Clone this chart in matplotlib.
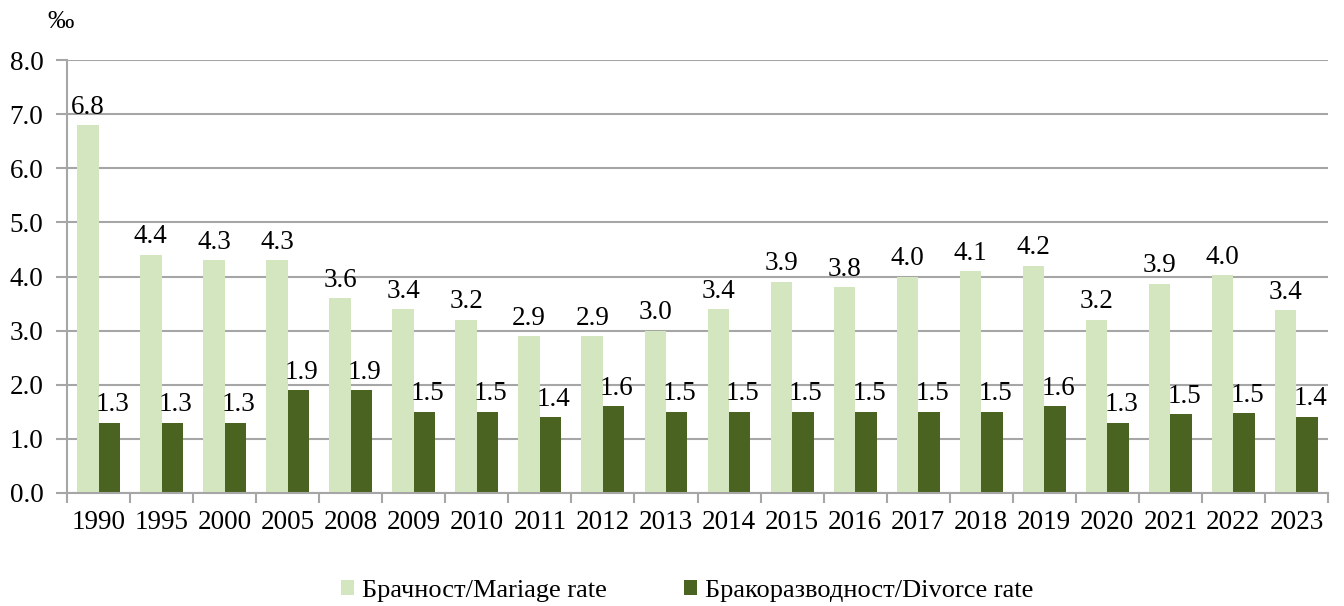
import numpy as np
import matplotlib.pyplot as plt

plt.rcParams['font.family'] = ['Liberation Serif', 'DejaVu Serif']

years = ["1990", "1995", "2000", "2005", "2008", "2009", "2010", "2011", "2012", "2013",
         "2014", "2015", "2016", "2017", "2018", "2019", "2020", "2021", "2022", "2023"]
marriage = [6.8, 4.4, 4.3, 4.3, 3.6, 3.4, 3.2, 2.9, 2.9, 3.0,
            3.4, 3.9, 3.8, 4.0, 4.1, 4.2, 3.2, 3.87, 4.02, 3.38]
divorce = [1.3, 1.3, 1.3, 1.9, 1.9, 1.5, 1.5, 1.4, 1.6, 1.5,
           1.5, 1.5, 1.5, 1.5, 1.5, 1.6, 1.3, 1.46, 1.47, 1.41]

light = "#D4E6BF"
dark = "#4A6321"
grid = "#A6A6A6"
fs = 19.5

fig = plt.figure(figsize=(13.44, 6.06), dpi=100)
ax = fig.add_axes([67 / 1344, 1 - 493 / 606, 1261 / 1344, 433 / 606])

x = np.arange(len(years))
w = 0.34
b1 = ax.bar(x - w / 2, marriage, w, color=light, label="Брачност/Mariage rate", zorder=3)
b2 = ax.bar(x + w / 2, divorce, w, color=dark, label="Бракоразводност/Divorce rate", zorder=3)

for xi, v in zip(x, marriage):
    ax.text(xi - w / 2, v + 0.1, "%.1f" % v, ha="center", va="bottom", fontsize=fs)
for xi, v in zip(x, divorce):
    ax.text(xi + w / 2 + 0.05, v + 0.1, "%.1f" % v, ha="center", va="bottom", fontsize=fs)

ax.set_xlim(-0.5, len(years) - 0.5)
ax.set_ylim(0, 8)
ax.set_yticks(np.arange(0, 8.5, 1.0))
ax.set_yticklabels(["%.1f" % t for t in np.arange(0, 8.5, 1.0)], fontsize=fs)
ax.set_xticks(x)
ax.set_xticklabels(years, fontsize=fs)
ax.set_xticks(np.arange(-0.5, len(years), 1.0), minor=True)
ax.tick_params(axis="x", which="major", length=0, pad=12)
ax.tick_params(axis="x", which="minor", length=7, color=grid, width=1.5)
ax.tick_params(axis="y", length=8, color=grid, width=1.5, pad=9)

ax.grid(axis="y", color=grid, linewidth=1.5, zorder=0)
for s in ["top", "right"]:
    ax.spines[s].set_visible(False)
for s in ["left", "bottom"]:
    ax.spines[s].set_color(grid)
    ax.spines[s].set_linewidth(1.5)
ax.spines["bottom"].set_zorder(4)

fig.text(61 / 1344, 1 - 22 / 606, "‰", fontsize=19, ha="center", va="center")

fig.legend(handles=[b1, b2], loc="center", bbox_to_anchor=(687 / 1344, 1 - 591 / 606),
           ncol=2, frameon=False, fontsize=19, handlelength=0.5, handleheight=0.5,
           handletextpad=0.3, columnspacing=2.9)

fig.savefig("out.png", dpi=100)
